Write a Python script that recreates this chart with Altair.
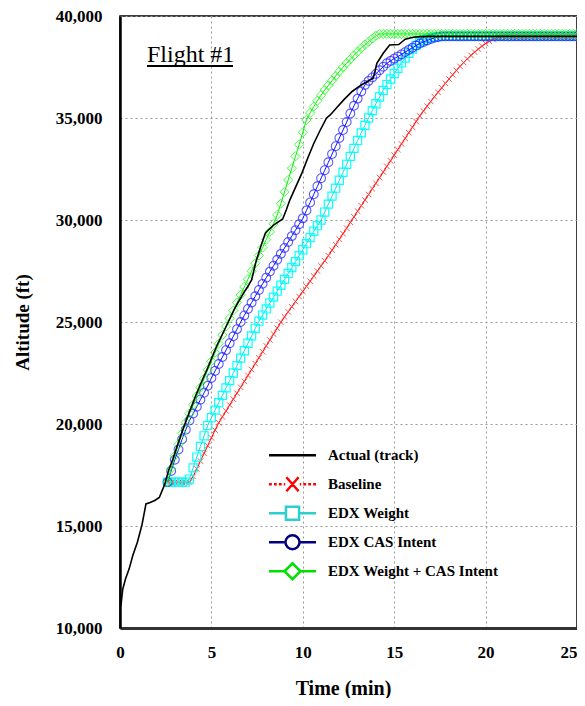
import altair as alt
import pandas as pd

# ---------------- data ----------------
TIME = [
    2.6, 2.8, 3.0, 3.2, 3.4, 3.6, 3.8, 4.0, 4.2, 4.4,
    4.6, 4.8, 5.0, 5.2, 5.4, 5.6, 5.8, 6.0, 6.2, 6.4,
    6.6, 6.8, 7.0, 7.2, 7.4, 7.6, 7.8, 8.0, 8.2, 8.4,
    8.6, 8.8, 9.0, 9.2, 9.4, 9.6, 9.8, 10.0, 10.2, 10.4,
    10.6, 10.8, 11.0, 11.2, 11.4, 11.6, 11.8, 12.0, 12.2, 12.4,
    12.6, 12.8, 13.0, 13.2, 13.4, 13.6, 13.8, 14.0, 14.2, 14.4,
    14.6, 14.8, 15.0, 15.2, 15.4, 15.6, 15.8, 16.0, 16.2, 16.4,
    16.6, 16.8, 17.0, 17.2, 17.4, 17.6, 17.8, 18.0, 18.2, 18.4,
    18.6, 18.8, 19.0, 19.2, 19.4, 19.6, 19.8, 20.0, 20.2, 20.4,
    20.6, 20.8, 21.0, 21.2, 21.4, 21.6, 21.8, 22.0, 22.2, 22.4,
    22.6, 22.8, 23.0, 23.2, 23.4, 23.6, 23.8, 24.0, 24.2, 24.4,
    24.6, 24.8, 25.0,
]

BASELINE = [
    17150, 17150, 17150, 17150, 17150, 17150, 17150, 17430, 17800, 18180,
    18560, 18940, 19320, 19700, 20060, 20350, 20640, 20930, 21220, 21510,
    21800, 22090, 22380, 22670, 22960, 23250, 23540, 23830, 24120, 24410,
    24700, 24990, 25250, 25500, 25750, 26000, 26250, 26500, 26750, 27000,
    27250, 27500, 27750, 28000, 28250, 28520, 28790, 29060, 29330, 29600,
    29880, 30150, 30430, 30700, 30980, 31250, 31530, 31800, 32080, 32350,
    32630, 32900, 33180, 33450, 33730, 34000, 34280, 34550, 34830, 35100,
    35340, 35580, 35810, 36040, 36260, 36480, 36700, 36910, 37120, 37330,
    37530, 37720, 37900, 38070, 38230, 38380, 38520, 38650, 38760, 38850,
    38920, 38970, 39000, 39000, 39000, 39000, 39000, 39000, 39000, 39000,
    39000, 39000, 39000, 39000, 39000, 39000, 39000, 39000, 39000, 39000,
    39000, 39000, 39000,
]

EDX_WEIGHT = [
    17150, 17150, 17150, 17150, 17150, 17150, 17300, 17850, 18380, 18900,
    19420, 19930, 20310, 20680, 21040, 21400, 21770, 22130, 22500, 22860,
    23230, 23590, 23960, 24320, 24690, 25040, 25340, 25640, 25930, 26220,
    26510, 26800, 27090, 27380, 27670, 27960, 28250, 28540, 28840, 29140,
    29450, 29720, 30000, 30390, 30780, 31170, 31560, 31950, 32340, 32730,
    33120, 33510, 33900, 34270, 34640, 35000, 35360, 35700, 36030, 36350,
    36640, 36910, 37180, 37440, 37700, 37940, 38170, 38380, 38560, 38700,
    38810, 38890, 38940, 38970, 38990, 39000, 39000, 39000, 39000, 39000,
    39000, 39000, 39000, 39000, 39000, 39000, 39000, 39000, 39000, 39000,
    39000, 39000, 39000, 39000, 39000, 39000, 39000, 39000, 39000, 39000,
    39000, 39000, 39000, 39000, 39000, 39000, 39000, 39000, 39000, 39000,
    39000, 39000, 39000,
]

EDX_CAS = [
    17150, 17700, 18250, 18750, 19250, 19720, 20170, 20510, 20850, 21190,
    21530, 21870, 22250, 22600, 22940, 23280, 23620, 23960, 24300, 24650,
    25000, 25320, 25640, 25950, 26260, 26570, 26870, 27170, 27470, 27760,
    28050, 28340, 28630, 28920, 29210, 29500, 29790, 30080, 30470, 30860,
    31260, 31650, 32050, 32440, 32830, 33230, 33620, 34020, 34410, 34800,
    35220, 35600, 35950, 36300, 36620, 36820, 36990, 37160, 37340, 37510,
    37680, 37800, 37910, 38010, 38120, 38230, 38340, 38450, 38550, 38650,
    38730, 38800, 38870, 38930, 38970, 39000, 39000, 39000, 39000, 39000,
    39000, 39000, 39000, 39000, 39000, 39000, 39000, 39000, 39000, 39000,
    39000, 39000, 39000, 39000, 39000, 39000, 39000, 39000, 39000, 39000,
    39000, 39000, 39000, 39000, 39000, 39000, 39000, 39000, 39000, 39000,
    39000, 39000, 39000,
]

EDX_BOTH = [
    17150, 17800, 18450, 19000, 19550, 20080, 20510, 20940, 21370, 21790,
    22220, 22650, 23080, 23500, 23930, 24360, 24790, 25180, 25560, 25950,
    26330, 26720, 27100, 27490, 27880, 28260, 28650, 29040, 29420, 29810,
    30250, 30800, 31380, 31960, 32540, 33120, 33700, 34300, 34900, 35250,
    35560, 35850, 36120, 36370, 36600, 36830, 37060, 37280, 37490, 37690,
    37880, 38070, 38250, 38430, 38590, 38740, 38890, 39030, 39120, 39120,
    39120, 39120, 39120, 39120, 39120, 39120, 39120, 39120, 39120, 39120,
    39120, 39120, 39120, 39120, 39120, 39120, 39120, 39120, 39120, 39120,
    39120, 39120, 39120, 39120, 39120, 39120, 39120, 39120, 39120, 39120,
    39120, 39120, 39120, 39120, 39120, 39120, 39120, 39120, 39120, 39120,
    39120, 39120, 39120, 39120, 39120, 39120, 39120, 39120, 39120, 39120,
    39120, 39120, 39120,
]

ACTUAL_T = [
    0.05, 0.15, 0.3, 0.5, 0.7, 0.95, 1.2, 1.42, 1.65, 1.9,
    2.15, 2.45, 2.65, 2.9, 3.1, 3.35, 3.55, 3.8, 4.1, 4.4,
    4.75, 5.0, 5.3, 5.6, 5.95, 6.3, 6.75, 7.0, 7.2, 7.45,
    7.7, 7.95, 8.05, 8.4, 8.9, 9.1, 9.3, 9.6, 9.95, 10.3,
    10.6, 10.95, 11.3, 11.5, 11.9, 12.25, 12.7, 13.2, 13.85, 13.95,
    14.05, 14.4, 14.75, 15.25, 15.6, 16.05, 16.4, 17.0, 25.0,
]
ACTUAL_ALT = [
    11100, 11900, 12400, 12900, 13550, 14200, 15050, 16080, 16150, 16250,
    16400, 17050, 17700, 18300, 18850, 19500, 20000, 20600, 21300, 21950,
    22650, 23200, 23850, 24400, 25050, 25700, 26400, 26750, 27060, 28000,
    28700, 29350, 29450, 29750, 30050, 30500, 31000, 31600, 32300, 33100,
    33750, 34400, 35000, 35150, 35550, 35900, 36300, 36620, 36950, 37300,
    37680, 38170, 38580, 38600, 38860, 38960, 38990, 39000, 39000,
]

SERIES_NAMES = ["Actual (track)", "Baseline", "EDX Weight",
                "EDX CAS Intent", "EDX Weight + CAS Intent"]
X_TICKS = [0, 5, 10, 15, 20, 25]
Y_TICKS = [10000, 15000, 20000, 25000, 30000, 35000, 40000]
PANEL_LABEL = "Flight #1"

# ---------------- styles ----------------
SERIF = "Liberation Serif"
LEGEND_COLORS = ["#000000", "#ff0000", "#2ccfcf", "#000080", "#00e000"]
LEGEND_PATHS = [
    "M-1,0H1",
    "M-1,0H-0.88M-0.79,0H-0.67M-0.58,0H-0.46M-0.37,0H-0.31M0.31,0H0.37M0.46,0H0.58M0.67,0H0.79M0.88,0H1"
    "M-0.26,-0.3L0.26,0.3M-0.26,0.3L0.26,-0.3",
    "M-1,0H-0.28M0.28,0H1M-0.28,-0.28H0.28V0.28H-0.28Z",
    "M-1,0H-0.3M0.3,0H1M-0.3,0A0.3,0.3 0 1,0 0.3,0A0.3,0.3 0 1,0 -0.3,0Z",
    "M-1,0H-0.34M0.34,0H1M-0.34,0L0,-0.34L0.34,0L0,0.34Z",
]
X_MARK = "M-1,-1L1,1M-1,1L1,-1"


def frame(values):
    return pd.DataFrame(list(zip(TIME, values)), columns=["t", "alt"])


x_enc = alt.X(
    "t:Q",
    scale=alt.Scale(domain=[0, 25], nice=False, zero=False),
    axis=alt.Axis(
        values=X_TICKS, format="d", title="Time (min)", grid=True,
        ticks=False, tickSize=0, labelPadding=29, labelBaseline="alphabetic",
        labelAlign=alt.ExprRef(expr="datum.value >= 25 ? 'right' : 'center'"),
        labelFlush=False, labelOverlap=False, labelFontSize=17,
        titleFontSize=20, titleX=223, titleY=66, titleBaseline="alphabetic",
        titleAlign="center", domainColor="#333333", domainWidth=3,
    ),
)
y_enc = alt.Y(
    "alt:Q",
    scale=alt.Scale(domain=[10000, 40000], nice=False, zero=False),
    axis=alt.Axis(
        values=Y_TICKS, format=",d", title="Altitude (ft)", grid=True,
        ticks=False, tickSize=0, labelPadding=18, labelAlign="right",
        labelBaseline="middle", labelFlush=False, labelOverlap=False,
        labelFontSize=17, titleFontSize=19, titleX=-92, titleY=306,
        titleAngle=270, titleAlign="center", titleBaseline="alphabetic",
        domainColor="black", domainWidth=2.5,
    ),
)


def series_layers(values, line_color, marker_color, shape, size, opacity, sw=1.0):
    df = frame(values)
    line = alt.Chart(df).mark_line(color=line_color, strokeWidth=1).encode(x=x_enc, y=y_enc)
    pts = alt.Chart(df).mark_point(
        shape=shape, filled=False, size=size, color=marker_color,
        strokeWidth=sw, opacity=opacity,
    ).encode(x=x_enc, y=y_enc)
    return [line, pts]


layers = []
layers += series_layers(BASELINE, "#ff0000", "#ff3030", X_MARK, 30, 0.85)
layers += series_layers(EDX_WEIGHT, "#00e5e5", "#00ffff", "square", 66, 0.95, 1.2)
layers += series_layers(EDX_CAS, "#1010ff", "#2525ff", "circle", 78, 0.75, 1.1)
layers += series_layers(EDX_BOTH, "#00ee00", "#22ff22", "diamond", 85, 0.85)

actual_df = pd.DataFrame({"t": ACTUAL_T, "alt": ACTUAL_ALT})
layers.append(
    alt.Chart(actual_df).mark_line(color="black", strokeWidth=1.6).encode(x=x_enc, y=y_enc)
)

legend = alt.Legend(
    title=None, orient="none", legendX=147.5, legendY=425,
    symbolSize=2209, symbolStrokeWidth=2.5, symbolOpacity=1,
    clipHeight=28.5, rowPadding=0, padding=0, offset=0,
    labelFont=SERIF, labelFontSize=15, labelFontWeight="bold",
    labelColor="black", labelOffset=10.5, labelLimit=400,
)
legend_df = pd.DataFrame({"series": SERIES_NAMES})
layers.append(
    alt.Chart(legend_df).mark_point(opacity=0, filled=False, strokeWidth=2.5).encode(
        color=alt.Color("series:N", scale=alt.Scale(domain=SERIES_NAMES, range=LEGEND_COLORS), legend=legend),
        shape=alt.Shape("series:N", scale=alt.Scale(domain=SERIES_NAMES, range=LEGEND_PATHS), legend=legend),
    )
)

label_df = pd.DataFrame({"label": [PANEL_LABEL]})
layers.append(
    alt.Chart(label_df).mark_text(
        font=SERIF, fontSize=24, align="left", baseline="alphabetic", color="black"
    ).encode(text="label:N", x=alt.value(27), y=alt.value(46))
)
layers.append(
    alt.Chart(label_df).mark_rule(color="black", strokeWidth=2).encode(
        x=alt.value(27), x2=alt.value(113), y=alt.value(50)
    )
)

chart = (
    alt.layer(*layers)
    .properties(
        width=457, height=612,
        autosize=alt.AutoSizeParams(type="none"),
        padding={"left": 112, "top": 8, "right": 0, "bottom": 70},
    )
    .configure_view(stroke="black", strokeWidth=1.5)
    .configure_axis(
        gridColor="#999999", gridDash=[2, 3], gridWidth=1,
        labelColor="black", titleColor="black",
        labelFont=SERIF, titleFont=SERIF,
        labelFontWeight="bold", titleFontWeight="bold",
    )
)

chart.save("out.html", embed_options={"renderer": "svg", "actions": False})
